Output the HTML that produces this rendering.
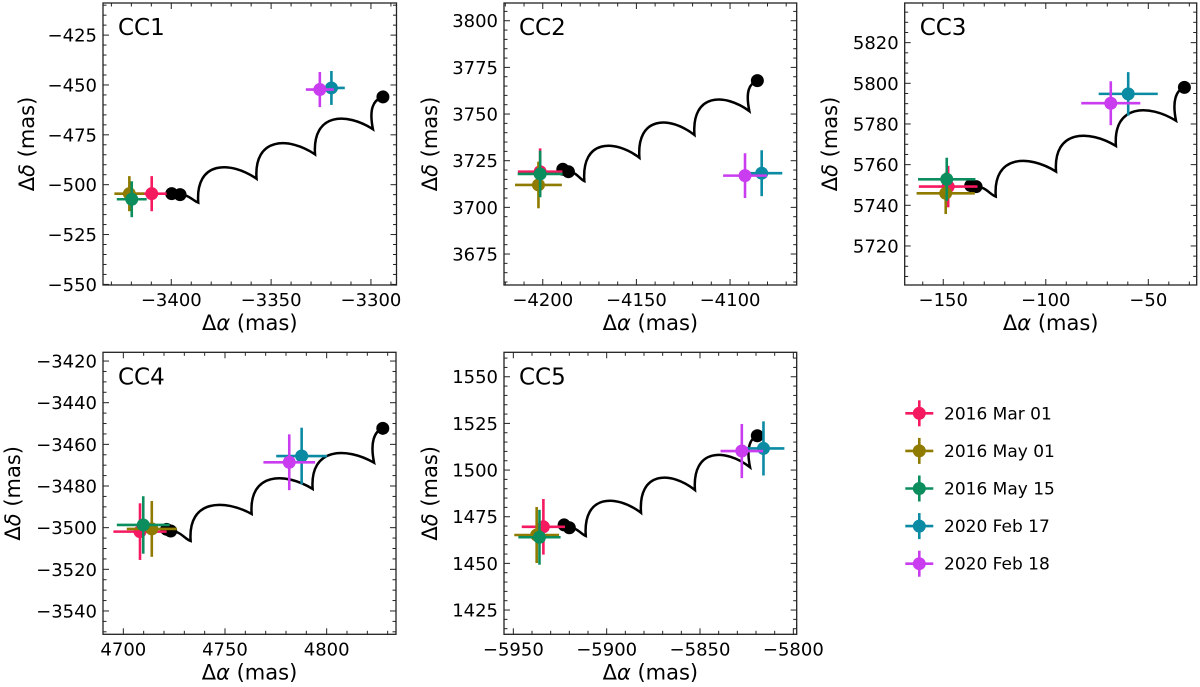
<!DOCTYPE html>
<html><head><meta charset="utf-8">
<style>
html,body{margin:0;padding:0;background:#fff;}
svg{display:block;font-family:"DejaVu Sans","Liberation Sans",sans-serif;}
</style></head>
<body>
<svg id="fig" width="1200" height="687" viewBox="0 0 1200 687"></svg>
<script>
// ---- data (mas) ----
const epochLabels = ["2016 Mar 01","2016 May 01","2016 May 15","2020 Feb 17","2020 Feb 18"];
const epochColors = ["#f5195f","#8f7b00","#0b8d5e","#0a8aa3","#c93cf0"];

const cc1_x = [-3409.8,-3421.0,-3419.8,-3319.8,-3325.6];
const cc1_y = [-504.5,-504.5,-507.3,-451.5,-452.3];
const cc1_xerr = [7.5,7.5,7.5,6.7,7.0];
const cc1_yerr = [8.8,8.8,9.0,8.5,8.8];
const cc1_trackX = [-3399.8,-3395.6,-3386.5,-3357.3,-3328.0,-3299.0,-3294.0];
const cc1_trackY = [-504.5,-505.0,-509.0,-497.0,-484.8,-472.2,-456.0];

const cc2_x = [-4201.4,-4202.3,-4201.4,-4083.1,-4092.0];
const cc2_y = [3719.1,3712.0,3717.9,3718.3,3717.0];
const cc2_xerr = [11.9,12.5,12.0,11.0,11.7];
const cc2_yerr = [12.5,12.5,12.5,12.3,12.0];
const cc2_trackX = [-4189.3,-4186.3,-4177.8,-4148.4,-4119.0,-4089.7,-4085.4];
const cc2_trackY = [3720.4,3719.1,3714.1,3726.6,3738.8,3751.6,3767.9];

const cc3_x = [-147.6,-148.8,-148.3,-59.8,-68.3];
const cc3_y = [5749.2,5745.9,5752.8,5794.8,5790.2];
const cc3_xerr = [14.3,14.2,14.0,14.4,14.4];
const cc3_yerr = [10.2,10.2,10.6,10.7,10.8];
const cc3_trackX = [-136.6,-134.0,-124.4,-95.0,-65.8,-36.5,-32.4];
const cc3_trackY = [5749.7,5749.2,5744.3,5756.6,5769.2,5781.6,5798.0];

const cc4_x = [4708.2,4714.0,4709.8,4787.7,4781.6];
const cc4_y = [-3501.9,-3500.6,-3498.7,-3465.6,-3468.6];
const cc4_xerr = [13.1,12.3,13.0,12.5,12.7];
const cc4_yerr = [13.6,13.4,13.8,13.6,13.4];
const cc4_trackX = [4721.3,4723.3,4733.1,4763.1,4793.1,4823.3,4827.6];
const cc4_trackY = [-3500.8,-3501.6,-3506.4,-3493.4,-3481.4,-3468.8,-3452.3];

const cc5_x = [-5933.9,-5937.5,-5936.0,-5816.0,-5827.6];
const cc5_y = [1469.6,1465.2,1464.0,1511.6,1510.2];
const cc5_xerr = [11.6,12.0,11.3,11.2,11.4];
const cc5_yerr = [14.9,15.0,14.7,14.5,14.5];
const cc5_trackX = [-5922.8,-5920.0,-5911.2,-5881.6,-5852.7,-5823.2,-5819.3];
const cc5_trackY = [1470.6,1469.1,1464.7,1477.1,1489.3,1501.5,1518.4];

const NS = "http://www.w3.org/2000/svg";
const svg = document.getElementById("fig");
function el(tag, attrs, parent){
  const e = document.createElementNS(NS, tag);
  for (const k in attrs) e.setAttribute(k, attrs[k]);
  (parent||svg).appendChild(e);
  return e;
}

const panels = [
  {name:"CC1", box:[103,3,396.5,285], xd:[-3434.2,-3287.2], yd:[-550.3,-408.9], xMaj:50, xMin:10, yMaj:25, yMin:5, xs:cc1_x, ys:cc1_y, xe:cc1_xerr, ye:cc1_yerr, tx:cc1_trackX, ty:cc1_trackY, ylx:27},
  {name:"CC2", box:[504,3,796.7,285], xd:[-4220.7,-4064.4], yd:[3658.4,3809.5], xMaj:50, xMin:10, yMaj:25, yMin:5, xs:cc2_x, ys:cc2_y, xe:cc2_xerr, ye:cc2_yerr, tx:cc2_trackX, ty:cc2_trackY, ylx:430},
  {name:"CC3", box:[904.7,3,1196.7,285], xd:[-168.8,-26.4], yd:[5700.8,5839.5], xMaj:50, xMin:10, yMaj:20, yMin:5, xs:cc3_x, ys:cc3_y, xe:cc3_xerr, ye:cc3_yerr, tx:cc3_trackX, ty:cc3_trackY, ylx:830},
  {name:"CC4", box:[103,352.3,396,634.3], xd:[4690,4834.1], yd:[-3551.2,-3415.8], xMaj:50, xMin:10, yMaj:20, yMin:5, xs:cc4_x, ys:cc4_y, xe:cc4_xerr, ye:cc4_yerr, tx:cc4_trackX, ty:cc4_trackY, ylx:13},
  {name:"CC5", box:[504,352.3,796.7,634.3], xd:[-5955,-5798.2], yd:[1412,1563.1], xMaj:50, xMin:10, yMaj:25, yMin:5, xs:cc5_x, ys:cc5_y, xe:cc5_xerr, ye:cc5_yerr, tx:cc5_trackX, ty:cc5_trackY, ylx:430}
];

function fmt(v){ const s = String(Math.round(v)); return s.replace("-","\u2212"); }

panels.forEach(p=>{
  const [L,T,R,B] = p.box;
  const id = p.name.toLowerCase();
  const g = el("g",{});
  
  
  const X = v => L + (v - p.xd[0])/(p.xd[1]-p.xd[0])*(R-L);
  const Y = v => B - (v - p.yd[0])/(p.yd[1]-p.yd[0])*(B-T);

  // ticks
  const tg = el("g",{stroke:"#222","stroke-width":1}, g);
  
  
  const eps=1e-6;
  for (let v=Math.ceil(p.xd[0]/p.xMin)*p.xMin; v<=p.xd[1]; v+=p.xMin){
    const major = Math.abs(v/p.xMaj - Math.round(v/p.xMaj))<eps;
    const len = major?6:3.5, x=X(v);
    el("line",{x1:x,y1:B,x2:x,y2:B-len},tg);
    el("line",{x1:x,y1:T,x2:x,y2:T+len},tg);
    if (major){
      const t = el("text",{x:x,y:B+21,"text-anchor":"middle","font-size":18,fill:"#000"},g);
      t.textContent = fmt(v);
      
      
    }
  }
  for (let v=Math.ceil(p.yd[0]/p.yMin)*p.yMin; v<=p.yd[1]; v+=p.yMin){
    const major = Math.abs(v/p.yMaj - Math.round(v/p.yMaj))<eps;
    const len = major?6:3.5, y=Y(v);
    el("line",{x1:L,y1:y,x2:L+len,y2:y},tg);
    el("line",{x1:R,y1:y,x2:R-len,y2:y},tg);
    if (major){
      const t = el("text",{x:L-6,y:y+6.5,"text-anchor":"end","font-size":18,fill:"#000"},g);
      t.textContent = fmt(v);
      
      
    }
  }

  // track
  const px = p.tx.map(X), py = p.ty.map(Y);
  let d = `M${px[1]},${py[1]}`;
  // start tail to first cusp
  d += ` C${px[1]+(px[2]-px[1])*0.5},${py[1]} ${px[2]-(px[2]-px[1])*0.3},${py[2]-2} ${px[2]},${py[2]}`;
  for (let i=2;i<5;i++){
    const ax=px[i], ay=py[i], bx=px[i+1], by=py[i+1], w=bx-ax;
    d += ` C${ax-3},${ay-42} ${ax+0.55*w},${ay-42} ${bx},${by}`;
  }
  d += ` C${px[5]-4},${py[5]-20} ${px[5]},${py[6]+3} ${px[6]},${py[6]}`;
  const tr = el("path",{d:d,fill:"none",stroke:"#000","stroke-width":2.5},g);
  
  
  // start line + dots
  const sl = el("line",{x1:px[0]-6,y1:py[0],x2:px[1],y2:py[1],stroke:"#000","stroke-width":2.5},g);
  
  
  [0,1,6].forEach(i=>{
    const c = el("circle",{cx:px[i],cy:py[i],r:6.5,fill:"#000"},g);
    
    
  });

  // points with error bars
  const order=[0,1,2,3,4];
  order.forEach(i=>{
    const cx=X(p.xs[i]), cy=Y(p.ys[i]);
    const pg = el("g",{stroke:epochColors[i],"stroke-width":2.6},g);
    
    
    el("line",{x1:X(p.xs[i]-p.xe[i]),y1:cy,x2:X(p.xs[i]+p.xe[i]),y2:cy},pg);
    el("line",{x1:cx,y1:Y(p.ys[i]-p.ye[i]),x2:cx,y2:Y(p.ys[i]+p.ye[i])},pg);
    el("circle",{cx:cx,cy:cy,r:6.5,fill:epochColors[i],stroke:"none"},pg);
  });

  // frame
  const fr = el("rect",{x:L,y:T,width:R-L,height:B-T,fill:"none",stroke:"#222","stroke-width":1.3},g);
  
  

  // title
  const tt = el("text",{x:L+15,y:T+32,"font-size":23,fill:"#000"},g);
  tt.textContent = p.name;
  
  

  // axis labels
  const xl = el("text",{x:(L+R)/2,y:B+45,"text-anchor":"middle","font-size":21,fill:"#000"},g);
  xl.innerHTML = 'Δ<tspan font-style="italic">α</tspan> (mas)';
  
  
  const cy=(T+B)/2;
  const yl = el("text",{x:p.ylx,y:cy,"text-anchor":"middle","dominant-baseline":"central","font-size":21,fill:"#000",transform:`rotate(-90 ${p.ylx} ${cy})`},g);
  yl.innerHTML = 'Δ<tspan font-style="italic">δ</tspan> (mas)';
  
  
});

// legend
const lg = el("g",{});


epochLabels.forEach((lab,i)=>{
  const y = 413.3 + i*37.6, x = 919.3;
  const e = el("g",{},lg);
  
  
  el("line",{x1:x-14,y1:y,x2:x+14,y2:y,stroke:epochColors[i],"stroke-width":2.6},e);
  el("line",{x1:x,y1:y-13,x2:x,y2:y+13,stroke:epochColors[i],"stroke-width":2.6},e);
  el("circle",{cx:x,cy:y,r:6.5,fill:epochColors[i]},e);
  const t = el("text",{x:944,y:y+6,"font-size":17,fill:"#000"},e);
  t.textContent = lab;
});
</script>
</body></html>
